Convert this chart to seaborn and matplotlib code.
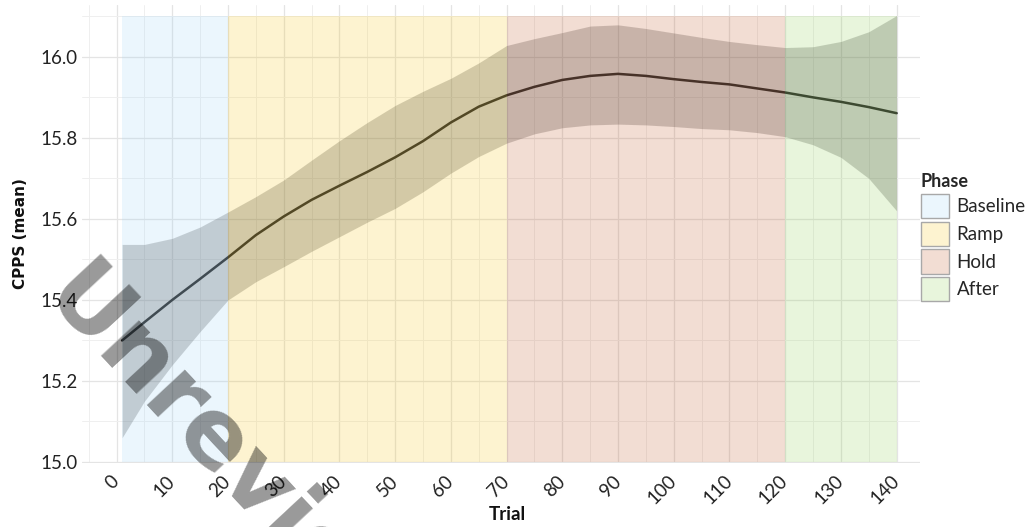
import matplotlib
matplotlib.use("Agg")
import matplotlib.pyplot as plt
from matplotlib.patches import Patch
from matplotlib.ticker import MultipleLocator, FixedLocator
import numpy as np
import pandas as pd
import seaborn as sns

# Smoothed CPPS trend with its confidence band, sampled every 5 trials
trial = [1, 5, 10, 15, 20, 25, 30, 35, 40, 45, 50, 55, 60, 65, 70,
         75, 80, 85, 90, 95, 100, 105, 110, 115, 120, 125, 130, 135, 140]
cpps_mean = [15.300, 15.345, 15.400, 15.452, 15.505, 15.560, 15.606, 15.647,
             15.682, 15.716, 15.752, 15.792, 15.838, 15.877, 15.905, 15.926,
             15.943, 15.953, 15.958, 15.953, 15.945, 15.938, 15.932, 15.922,
             15.912, 15.900, 15.889, 15.876, 15.861]
ci_lower = [15.060, 15.150, 15.240, 15.322, 15.400, 15.445, 15.482, 15.520,
            15.556, 15.592, 15.626, 15.667, 15.713, 15.754, 15.787, 15.810,
            15.825, 15.832, 15.834, 15.832, 15.828, 15.823, 15.820, 15.813,
            15.803, 15.783, 15.752, 15.700, 15.620]
ci_upper = [15.537, 15.537, 15.552, 15.580, 15.617, 15.655, 15.696, 15.745,
            15.793, 15.838, 15.880, 15.915, 15.947, 15.985, 16.028, 16.045,
            16.060, 16.076, 16.079, 16.070, 16.059, 16.048, 16.038, 16.030,
            16.023, 16.025, 16.038, 16.062, 16.102]

# Experimental phases
phase_names = ["Baseline", "Ramp", "Hold", "After"]
phase_start = [1, 20, 70, 120]
phase_end = [20, 70, 120, 140]
phase_colors = ["#9BD2F5", "#F5C314", "#BE5523", "#8CCD50"]
phase_bottom = 15.0
phase_top = 16.1

x_ticks = list(range(0, 141, 10))
y_ticks = [15.0, 15.2, 15.4, 15.6, 15.8, 16.0]

sns.set_theme(style="whitegrid")
plt.rcParams["font.family"] = ["Lato", "DejaVu Sans"]

W, H = 1034, 527
fig = plt.figure(figsize=(W / 100, H / 100), dpi=100)
ax = fig.add_axes([82 / W, 1 - 463 / H, (920 - 82) / W, (463 - 5) / H])

df = pd.DataFrame({"Trial": trial, "CPPS": cpps_mean})

ax.fill_between(trial, ci_lower, ci_upper, color="#333333", alpha=0.25,
                lw=0, zorder=2)
sns.lineplot(data=df, x="Trial", y="CPPS", color="#2a2a2a", lw=1.8,
             ax=ax, zorder=3)

for name, s, e, c in zip(phase_names, phase_start, phase_end, phase_colors):
    ax.fill_between([s, e], phase_bottom, phase_top, color=c, alpha=0.2,
                    lw=0, zorder=4)

ax.set_xlim(-6.2, 144.2)
ax.set_ylim(14.9975, 16.128)

ax.xaxis.set_major_locator(FixedLocator(x_ticks))
ax.xaxis.set_minor_locator(MultipleLocator(5))
ax.yaxis.set_major_locator(FixedLocator(y_ticks))
ax.yaxis.set_minor_locator(MultipleLocator(0.1))
ax.set_yticklabels([f"{v:.1f}" for v in y_ticks])
ax.set_xticklabels([str(v) for v in x_ticks])

ax.set_axisbelow(True)
ax.grid(which="major", color="#e4e4e4", lw=0.9)
ax.grid(which="minor", color="#efefef", lw=0.7)
for sp in ax.spines.values():
    sp.set_visible(False)
ax.set_facecolor("white")

ax.tick_params(axis="both", which="both", length=0)
ax.tick_params(axis="y", labelsize=13.5, labelcolor="#222222", pad=3)
ax.tick_params(axis="x", labelsize=13.5, labelcolor="#222222", pad=11)
for lab in ax.get_xticklabels():
    lab.set_rotation(45)
    lab.set_ha("right")
    lab.set_va("center")
    lab.set_rotation_mode("anchor")

ax.set_xlabel("Trial", fontsize=13.5, fontweight="bold", color="#111111")
ax.set_ylabel("CPPS (mean)", fontsize=11, fontweight="bold",
              color="#111111", family="DejaVu Sans")
ax.xaxis.set_label_coords((507 - 82) / 838, -(506 - 463) / 458)
ax.yaxis.set_label_coords(-(82 - 28) / 838, 0.5)

handles = [Patch(facecolor=matplotlib.colors.to_rgba(c, 0.2),
                 edgecolor="#a8a8a8", lw=1.0) for c in phase_colors]
leg = fig.legend(handles, phase_names, title="Phase", loc="upper left",
                 bbox_to_anchor=(921 / W, 1 - 173 / H), frameon=False,
                 fontsize=13.5,
                 title_fontproperties={"weight": "bold", "size": 13},
                 handlelength=1.5, handleheight=1.6, labelspacing=0.2,
                 handletextpad=0.4, borderaxespad=0, borderpad=0)
leg._legend_box.align = "left"

fig.text(40 / W, 1 - 300 / H, "Unreviewed", rotation=-47,
         rotation_mode="anchor", ha="left", va="baseline", fontsize=68,
         fontweight="bold", color="black", alpha=0.4, family="DejaVu Sans",
         zorder=10)

fig.savefig("out.png", dpi=100, facecolor="white")
